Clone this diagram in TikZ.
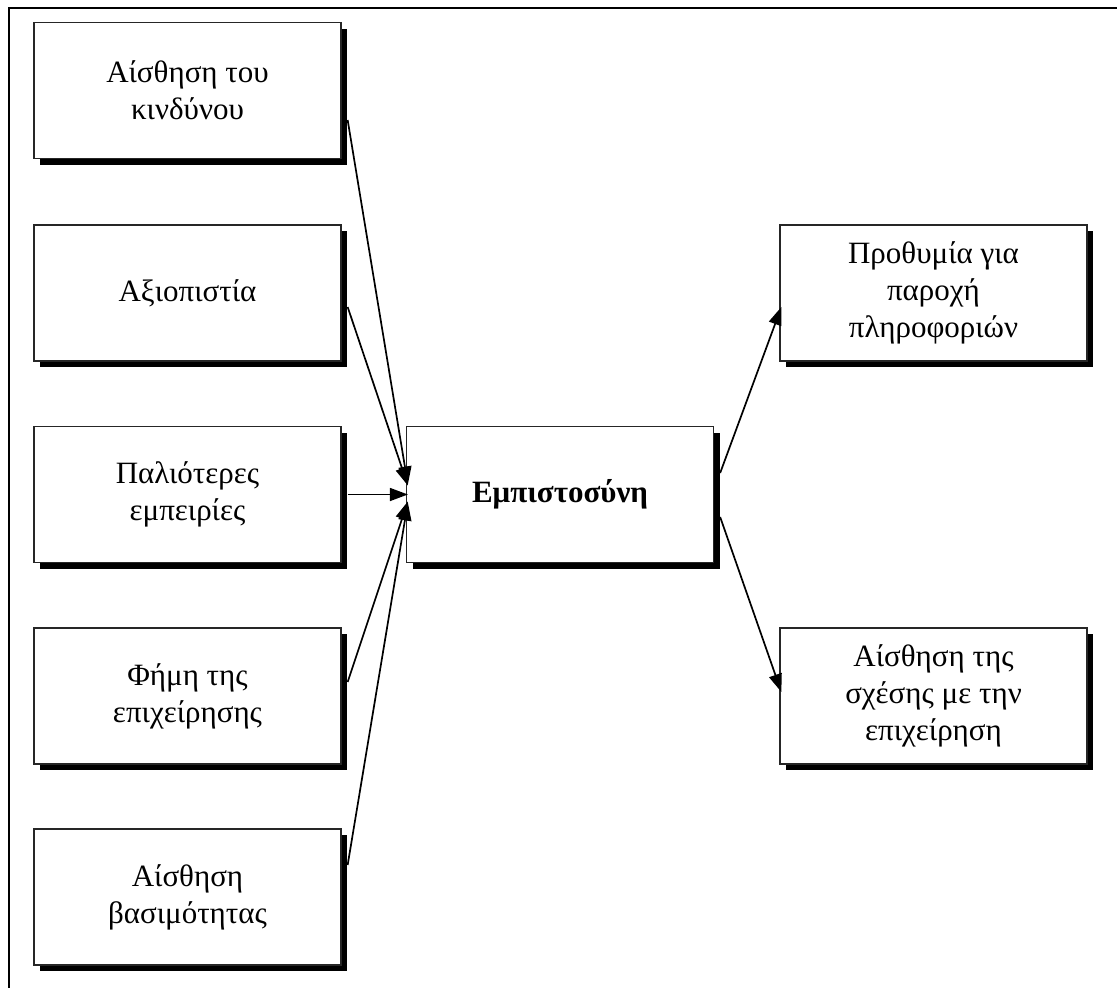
\documentclass[tikz,border=0pt]{standalone}
\usepackage{fontspec}
\setmainfont{Liberation Serif}
\usetikzlibrary{arrows.meta,shadows}
\begin{document}
\begin{tikzpicture}[x=1pt,y=-1pt,
  boxnode/.style={draw=black!85,line width=1.3pt,fill=white,rectangle,
    minimum width=307pt,minimum height=136pt,align=center,inner sep=0pt,
    font=\fontsize{31}{37}\selectfont,
    drop shadow={shadow xshift=6pt,shadow yshift=-6pt,fill=black,opacity=1}},
  arr/.style={line width=1.7pt,-{Triangle[length=18pt,width=13pt]}},
  frameline/.style={line width=2.5pt}]
\useasboundingbox (0,0) rectangle (1117,988);
\draw[frameline] (9,988) coordinate (fbl) -- (9,8) coordinate (ftl) -- (1117,8) coordinate (ftr);
\node[boxnode] (b1) at (187.5,90.5) {Αίσθηση του\\κινδύνου};
\node[boxnode] (b2) at (187.5,293) {Αξιοπιστία};
\node[boxnode] (b3) at (187.5,494.5) {Παλιότερες\\εμπειρίες};
\node[boxnode] (b4) at (187.5,696) {Φήμη της\\επιχείρησης};
\node[boxnode] (b5) at (187.5,897) {Αίσθηση\\βασιμότητας};
\node[boxnode,font=\fontsize{31}{37}\selectfont\bfseries] (c) at (560,494.5) {Εμπιστοσύνη};
\node[boxnode] (r1) at (933.5,293) {Προθυμία για\\παροχή\\πληροφοριών};
\node[boxnode] (r2) at (933.5,696) {Αίσθηση της\\σχέσης με την\\επιχείρηση};
\draw[arr] ([shift={(6,29.5)}]b1.east) -- ([shift={(2,-10)}]c.west);
\draw[arr] ([shift={(6,14)}]b2.east) -- ([shift={(2,-9)}]c.west);
\draw[arr] ([shift={(6,0)}]b3.east) -- ([shift={(2,0)}]c.west);
\draw[arr] ([shift={(6,-14)}]b4.east) -- ([shift={(2,7)}]c.west);
\draw[arr] ([shift={(6,-32)}]b5.east) -- ([shift={(2,8)}]c.west);
\draw[arr] ([shift={(6,-21.5)}]c.east) -- ([shift={(2,14)}]r1.west);
\draw[arr] ([shift={(6,22.5)}]c.east) -- ([shift={(2,-4)}]r2.west);
\end{tikzpicture}
\end{document}
